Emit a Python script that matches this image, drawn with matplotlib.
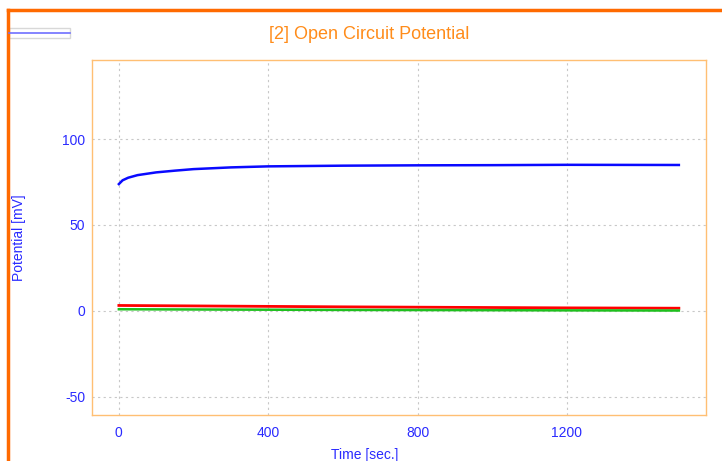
import matplotlib
matplotlib.use("Agg")
import matplotlib.pyplot as plt
from matplotlib.lines import Line2D
from matplotlib.patches import Rectangle

plt.rcParams["font.family"] = ["Liberation Sans", "DejaVu Sans"]
plt.rcParams["axes.unicode_minus"] = False

# Open circuit potential readings
time_blue = [0, 10, 25, 50, 100, 150, 200, 300, 400, 600, 800, 1000, 1200, 1500]
pot_blue = [73.8, 76.0, 77.5, 79.0, 80.6, 81.6, 82.5, 83.5, 84.1, 84.5, 84.7, 84.8, 85.0, 84.9]

time_red = [0, 300, 600, 900, 1200, 1500]
pot_red = [3.2, 2.8, 2.4, 2.1, 1.8, 1.6]

time_green = [0, 300, 600, 900, 1200, 1500]
pot_green = [1.0, 0.8, 0.6, 0.5, 0.35, 0.25]

x_ticks = [0, 400, 800, 1200]
y_ticks = [-50, 0, 50, 100]

text_blue = "#2a2aff"
frame_orange = "#ff6a00"
spine_orange = "#ffbf73"

fig = plt.figure(figsize=(7.22, 4.61), dpi=100)
ax = fig.add_axes([0.1274, 0.0998, 0.978 - 0.1274, 0.870 - 0.0998])

ax.plot(time_red, pot_red, c="#ff0000", lw=2.0)
ax.plot(time_green, pot_green, c="#1ec01e", lw=1.8)
ax.plot(time_blue, pot_blue, c="#0a0aff", lw=1.8)

ax.set_xlim(-72, 1573)
ax.set_ylim(-60.5, 146)
ax.set_xticks(x_ticks)
ax.set_yticks(y_ticks)
ax.tick_params(length=0, colors=text_blue, labelsize=10)
ax.tick_params(axis="x", pad=8)
ax.tick_params(axis="y", pad=5)
ax.grid(True, ls=(0, (2, 3)), c="#c8c8c8", lw=0.8)
for s in ax.spines.values():
    s.set_color(spine_orange)
    s.set_linewidth(1.0)

ax.set_xlabel("Time [sec.]", color=text_blue, fontsize=10)
ax.xaxis.set_label_coords(0.444, -0.092)
ax.set_ylabel("Potential [mV]", color=text_blue, fontsize=10)
ax.yaxis.set_label_coords(-0.108, 0.5)
fig.text(0.512, 0.925, "[2] Open Circuit Potential", color="#ff8c1a",
         fontsize=13, ha="center", va="center")

# outer orange frame (top and left edges)
fig.add_artist(Line2D([0.011, 1.0], [0.979, 0.979], color=frame_orange, lw=2.5,
                      transform=fig.transFigure))
fig.add_artist(Line2D([0.011, 0.011], [0.0, 0.979], color=frame_orange, lw=2.5,
                      transform=fig.transFigure))

# small legend strip at top left
fig.add_artist(Rectangle((0.0125, 0.918), 0.085, 0.0215, fill=False,
                         ec="#d8d8d8", lw=1.0, transform=fig.transFigure))
fig.add_artist(Line2D([0.0125, 0.0975], [0.928, 0.928], color="#7070ff", lw=1.2,
                      transform=fig.transFigure))

fig.savefig("out.png", dpi=100)
